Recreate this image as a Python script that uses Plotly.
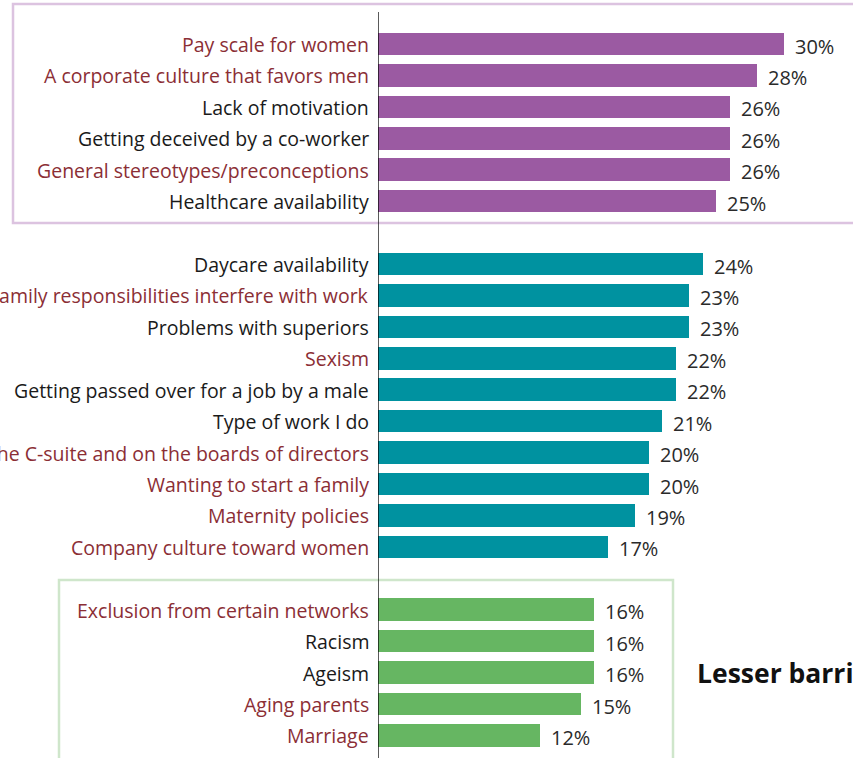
import plotly.graph_objects as go

# データ
top_labels = ["Pay scale for women", "A corporate culture that favors men", "Lack of motivation",
              "Getting deceived by a co-worker", "General stereotypes/preconceptions",
              "Healthcare availability"]
top_values = [30, 28, 26, 26, 26, 25]

mid_labels = ["Daycare availability", "Family responsibilities interfere with work",
              "Problems with superiors", "Sexism", "Getting passed over for a job by a male",
              "Type of work I do", "Lack of women in the C-suite and on the boards of directors",
              "Wanting to start a family", "Maternity policies", "Company culture toward women"]
mid_values = [24, 23, 23, 22, 22, 21, 20, 20, 19, 17]

low_labels = ["Exclusion from certain networks", "Racism", "Ageism", "Aging parents", "Marriage"]
low_values = [16, 16, 16, 15, 12]

# 赤いラベルの項目
red_labels = ["Pay scale for women", "A corporate culture that favors men",
              "General stereotypes/preconceptions", "Family responsibilities interfere with work",
              "Sexism", "Lack of women in the C-suite and on the boards of directors",
              "Wanting to start a family", "Maternity policies", "Company culture toward women",
              "Exclusion from certain networks", "Aging parents", "Marriage"]

FONT = "Open Sans"
W, H = 853, 758
LEFT = 378          # x=0 の位置 (px)
PX_PER_PCT = 13.53
ROW = 31.43
ROW0 = 44           # 最初の行の中心 (px)

groups = [
    (top_labels, top_values, "#9B5AA2", 0),
    (mid_labels, mid_values, "#0092A0", 7),
    (low_labels, low_values, "#66B662", 18),
]

fig = go.Figure()
annotations = []

for labels, values, color, start in groups:
    rows = [start + i for i in range(len(labels))]
    fig.add_trace(go.Bar(
        x=values, y=rows, orientation="h", width=0.72,
        marker=dict(color=color, line=dict(width=0)),
        hoverinfo="skip", showlegend=False,
    ))
    for lab, val, r in zip(labels, values, rows):
        annotations.append(dict(
            text=lab, xref="paper", x=0, xshift=-7, xanchor="right",
            yref="y", y=r, yshift=-0.5, showarrow=False,
            font=dict(family=FONT, size=19.5,
                      color="#8B2E35" if lab in red_labels else "#1a1a1a"),
        ))
        annotations.append(dict(
            text=f"{val}%", xref="x", x=val, xshift=9, xanchor="left",
            yref="y", y=r, yshift=-2, showarrow=False,
            font=dict(family=FONT, size=20, color="#2a2a2a"),
        ))

annotations.append(dict(
    text="<b>Lesser barriers</b>", xref="paper", x=(695 - LEFT) / (W - LEFT), xanchor="left",
    yref="y", y=20, showarrow=False,
    font=dict(family=FONT, size=26.5, color="#111111"),
))

def px_x(p):
    return (p - LEFT) / (W - LEFT)

def px_y(p):
    return 1 - p / H

shapes = [
    # 紫の枠
    dict(type="rect", xref="paper", yref="paper", layer="below",
         x0=px_x(13), x1=px_x(870), y0=px_y(223), y1=px_y(4),
         line=dict(color="#DCC3E0", width=2.5)),
    # 緑の枠
    dict(type="rect", xref="paper", yref="paper", layer="below",
         x0=px_x(59), x1=px_x(673), y0=px_y(780), y1=px_y(580),
         line=dict(color="#CFE6CB", width=2.5)),
    # 縦軸線
    dict(type="line", xref="x", yref="paper", x0=0, x1=0, y0=0, y1=px_y(12),
         line=dict(color="#000000", width=1.3)),
]

fig.update_layout(
    width=W, height=H,
    margin=dict(l=LEFT, r=0, t=0, b=0),
    paper_bgcolor="white", plot_bgcolor="white",
    xaxis=dict(range=[0, (W - LEFT) / PX_PER_PCT], visible=False),
    yaxis=dict(range=[(H - ROW0) / ROW, -ROW0 / ROW], visible=False),
    bargap=0, annotations=annotations, shapes=shapes,
)

# ページの余白を消す
fig.write_html("out.html", config={"displayModeBar": False},
               post_script="document.body.style.margin='0';")
